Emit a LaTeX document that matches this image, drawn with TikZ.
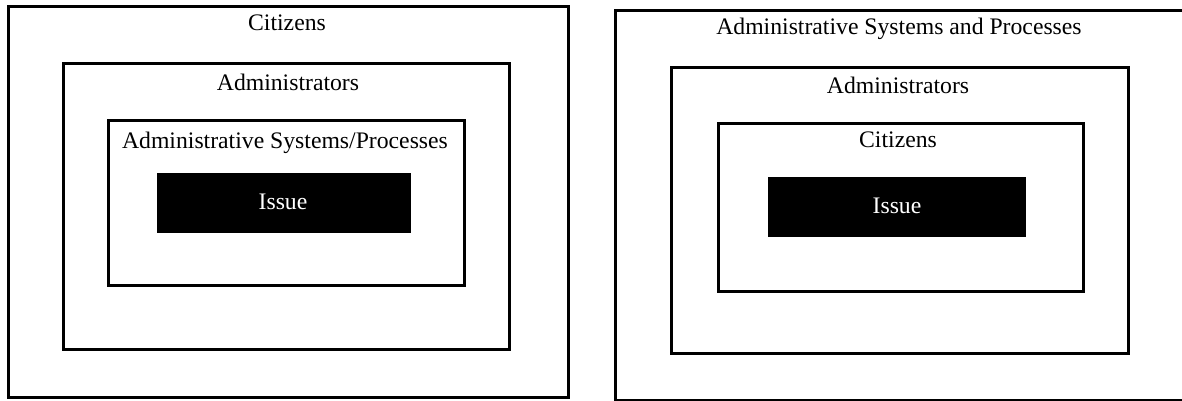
\documentclass[tikz,border=0pt]{standalone}
\usepackage{fontspec}
\setmainfont{Liberation Serif}
\begin{document}
\begin{tikzpicture}[x=1pt,y=-1pt,
  frame/.style={draw=black, line width=3pt, fill=none, inner sep=0pt, anchor=north west},
  issuebox/.style={fill=black, draw=black, line width=1pt, inner sep=0pt, anchor=north west},
  lbl/.style={anchor=base, inner sep=0pt, font=\fontsize{23.7}{27}\selectfont},
  wlbl/.style={lbl, text=white}]
\useasboundingbox (0,0) rectangle (1182,400);
% left diagram
\node[frame, minimum width=560pt, minimum height=391pt] (lo) at (7,5) {};
\node[frame, minimum width=446pt, minimum height=286pt] (la) at (62,62) {};
\node[frame, minimum width=356pt, minimum height=165pt] (ls) at (107,119) {};
\node[issuebox, minimum width=253pt, minimum height=59pt] (li) at (157,173) {};
\node[lbl] (lot) at (287,30) {Citizens};
\node[lbl] (lat) at (288,90) {Administrators};
\node[lbl] (lst) at (285,148) {Administrative Systems/Processes};
\node[wlbl] (lit) at (283,209) {Issue};
% right diagram
\node[frame, minimum width=572pt, minimum height=390pt] (ro) at (614,9) {};
\node[frame, minimum width=457pt, minimum height=286pt] (ra) at (670,66) {};
\node[frame, minimum width=365pt, minimum height=168pt] (rc) at (717,122) {};
\node[issuebox, minimum width=257pt, minimum height=59pt] (ri) at (768,177) {};
\node[lbl] (rot) at (899,34) {Administrative Systems and Processes};
\node[lbl] (rat) at (898,93) {Administrators};
\node[lbl] (rct) at (898,147) {Citizens};
\node[wlbl] (rit) at (897,213) {Issue};
\end{tikzpicture}
\end{document}
